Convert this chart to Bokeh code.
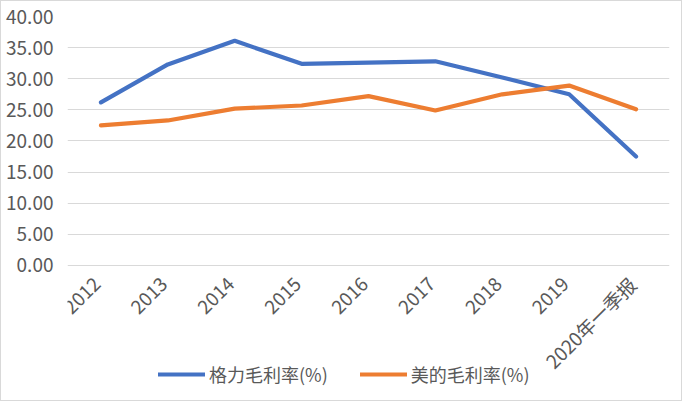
import math
from bokeh.plotting import figure
from bokeh.models import ColumnDataSource, Legend, LegendItem, NumeralTickFormatter, FixedTicker
from bokeh.core.properties import value
from bokeh.embed import file_html
from bokeh.resources import INLINE

categories = ["2012", "2013", "2014", "2015", "2016", "2017", "2018", "2019", "2020年一季报"]
gree = [26.2, 32.3, 36.1, 32.4, 32.6, 32.8, 30.2, 27.5, 17.5]
midea = [22.5, 23.3, 25.2, 25.7, 27.2, 24.9, 27.5, 28.9, 25.1]
y_ticks = [0, 5, 10, 15, 20, 25, 30, 35, 40]
names = ["格力毛利率(%)", "美的毛利率(%)"]

FONT = "Noto Sans CJK SC"
GRAY = "#595959"

src = ColumnDataSource(dict(x=categories, gree=gree, midea=midea,
                            base=[0] * len(categories)))

# frame extends below zero so that the category labels and legend share the bottom area
p = figure(width=682, height=401, x_range=categories, y_range=(-21.69, 40),
           output_backend="svg", toolbar_location=None,
           min_border_left=66, min_border_right=14, min_border_top=15, min_border_bottom=2)
p.styles = {"border": "1px solid #d9d9d9"}
p.outline_line_color = None
p.border_fill_color = "white"
p.background_fill_color = "white"

r1 = p.line("x", "gree", source=src, line_color="#4472C4", line_width=4.2,
            line_join="round", line_cap="round")
r2 = p.line("x", "midea", source=src, line_color="#ED7D31", line_width=4.2,
            line_join="round", line_cap="round")

# category labels, rotated 45 degrees, right end just below each category
p.text(x="x", y="base", text="x", source=src, angle=math.pi / 4,
       text_align="right", text_baseline="middle", x_offset=-4, y_offset=15,
       text_font=value(FONT), text_font_size="19px", text_color=GRAY)

p.xaxis.visible = False
p.xgrid.grid_line_color = None
p.ygrid.grid_line_color = "#d9d9d9"
p.ygrid.grid_line_width = 1.2
p.yaxis.ticker = FixedTicker(ticks=y_ticks)
p.yaxis.formatter = NumeralTickFormatter(format="0.00")
ax = p.yaxis[0]
ax.axis_line_color = None
ax.major_tick_line_color = None
ax.minor_tick_line_color = None
ax.major_tick_out = 0
ax.major_tick_in = 0
ax.minor_tick_out = 0
ax.major_label_text_font = FONT
ax.major_label_text_font_size = "19px"
ax.major_label_text_color = GRAY
ax.major_label_standoff = 14

legend = Legend(items=[LegendItem(label=names[0], renderers=[r1]),
                       LegendItem(label=names[1], renderers=[r2])],
                orientation="horizontal", location=(91, 13),
                label_text_font=FONT, label_text_font_size="18px", label_text_color=GRAY,
                glyph_width=47, glyph_height=20, label_standoff=4, spacing=32,
                background_fill_alpha=0, border_line_color=None, padding=0, margin=0)
p.add_layout(legend, "center")

open("out.html", "w").write(file_html(p, INLINE))
